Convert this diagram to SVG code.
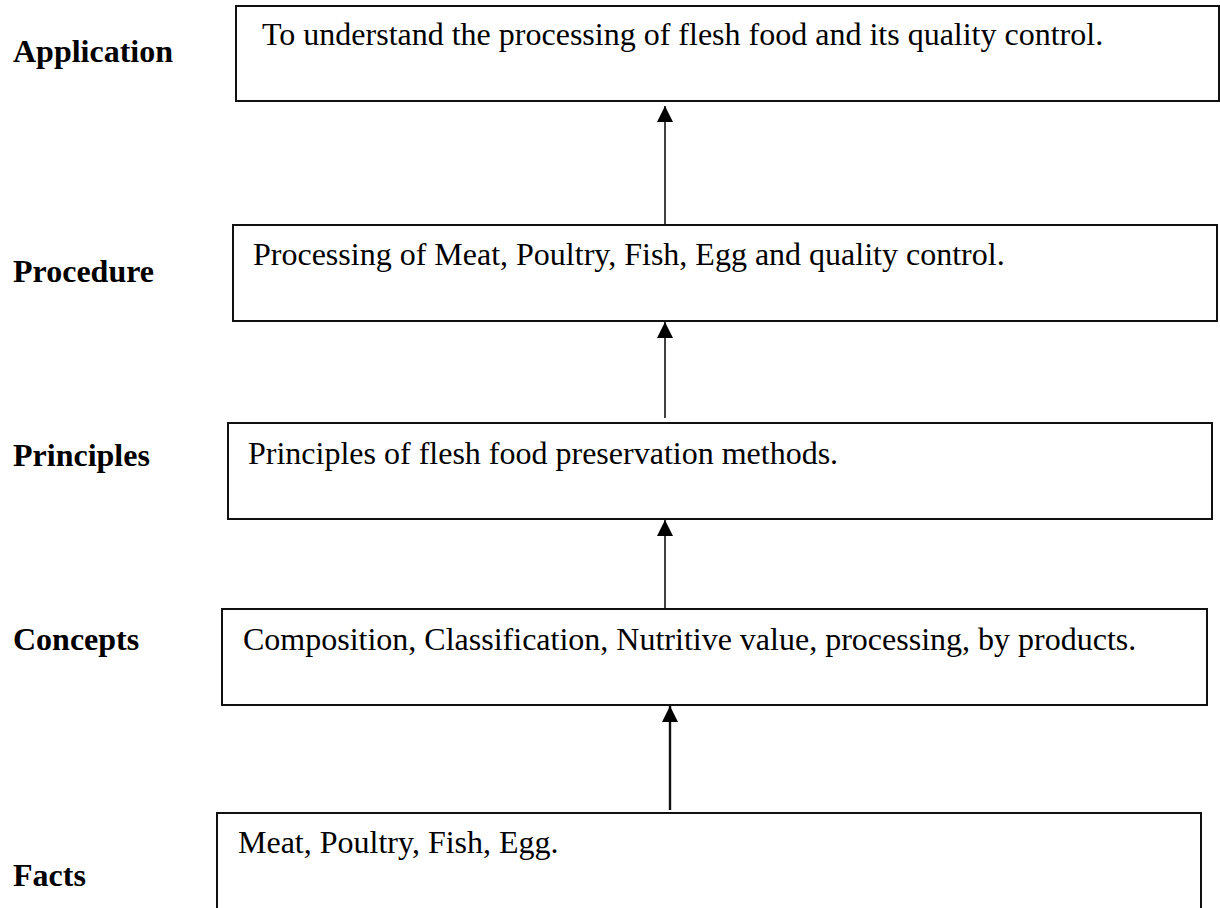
<svg xmlns="http://www.w3.org/2000/svg" width="1220" height="908" viewBox="0 0 1220 908">
  <style>
    .box { fill: #fff; stroke: #111; stroke-width: 2; }
    .label { font-family: "Liberation Serif", "Times New Roman", serif; font-size: 32px; font-weight: bold; fill: #000; }
    .txt { font-family: "Liberation Serif", "Times New Roman", serif; font-size: 32px; fill: #000; }
    .conn { fill: none; stroke: #111; stroke-width: 1.6; marker-end: url(#head); }
    .conn.heavy { stroke-width: 2.4; }
  </style>
  <defs>
    <marker id="head" viewBox="0 0 16 16" refX="16" refY="8" markerWidth="16" markerHeight="16" markerUnits="userSpaceOnUse" orient="auto">
      <path d="M0,0 L16,8 L0,16 z" fill="#000"/>
    </marker>
  </defs>
  <rect width="1220" height="908" fill="#fff"/>

  <!-- upward arrows between the levels -->
  <g id="connectors">
    <line class="conn" x1="665" y1="225" x2="665" y2="106"/>
    <line class="conn" x1="665" y1="418" x2="665" y2="322"/>
    <line class="conn" x1="665" y1="609" x2="665" y2="520"/>
    <line class="conn heavy" x1="670" y1="810" x2="670" y2="706"/>
  </g>

  <g id="application">
    <text class="label" x="13" y="62">Application</text>
    <rect class="box" x="236" y="6" width="983" height="95"/>
    <text class="txt" x="262" y="45">To understand the processing of flesh food and its quality control.</text>
  </g>

  <g id="procedure">
    <text class="label" x="13" y="282">Procedure</text>
    <rect class="box" x="233" y="225" width="984" height="96"/>
    <text class="txt" x="253" y="265">Processing of Meat, Poultry, Fish, Egg and quality control.</text>
  </g>

  <g id="principles">
    <text class="label" x="13" y="466">Principles</text>
    <rect class="box" x="228" y="423" width="984" height="96"/>
    <text class="txt" x="248" y="464">Principles of flesh food preservation methods.</text>
  </g>

  <g id="concepts">
    <text class="label" x="13" y="650">Concepts</text>
    <rect class="box" x="222" y="609" width="985" height="96"/>
    <text class="txt" x="243" y="650">Composition, Classification, Nutritive value, processing, by products.</text>
  </g>

  <!-- bottom box runs off the lower edge -->
  <g id="facts">
    <text class="label" x="13" y="886">Facts</text>
    <path class="box" d="M217,920 V813 H1201 V920"/>
    <text class="txt" x="238" y="853">Meat, Poultry, Fish, Egg.</text>
  </g>
</svg>
